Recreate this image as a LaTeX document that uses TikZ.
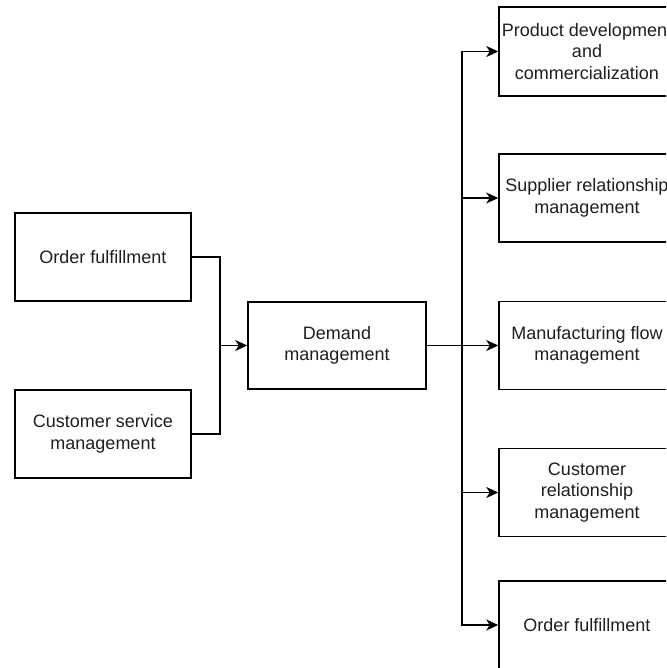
\documentclass[tikz,border=0pt]{standalone}
\usepackage{fontspec}
\setmainfont{Liberation Sans}
\usetikzlibrary{arrows.meta}
\begin{document}
\begin{tikzpicture}[x=1pt,y=-1pt,
  proc/.style={draw=black, line width=1.5pt, minimum width=176pt, minimum height=88pt,
    inner sep=0pt, align=center, font=\fontsize{18}{21.4}\selectfont, text=black!88},
  link/.style={line width=1.5pt, line join=miter},
  arr/.style={link, -{Stealth[length=12pt, width=11pt, inset=3.5pt]}}]
  \useasboundingbox (0,0) rectangle (666,668);
  \clip (0,0) rectangle (666,668);
  \fill[white] (0,0) rectangle (666,668);

  % inputs
  \node[proc] (of1) at (103,257) {Order fulfillment};
  \node[proc] (csm) at (103,434) {Customer service\\management};
  \node[proc, minimum width=178pt, minimum height=87pt] (dm) at (337,345.5) {Demand\\management};

  % outputs
  \node[proc, minimum height=89pt] (pd) at (587,51.5) {Product development\\and\\commercialization};
  \node[proc] (sr) at (587,198) {Supplier relationship\\management};
  \node[proc] (mf) at (587,345.5) {Manufacturing flow\\management};
  \node[proc] (cr) at (587,492.5) {Customer\\relationship\\management};
  \node[proc] (of2) at (587,625) {Order fulfillment};

  % merge into demand management
  \coordinate (jl) at (220,345.5);
  \draw[link] (of1.east) -| (jl);
  \draw[link] (csm.east) -| (jl);
  \draw[arr] (jl) -- (dm.west);

  % distribution trunk
  \coordinate (jr) at (462,345.5);
  \draw[arr] (dm.east) -- (mf.west);
  \draw[arr] (jr) |- (pd.west);
  \draw[arr] (jr) |- (sr.west);
  \draw[arr] (jr) |- (cr.west);
  \draw[arr] (jr) |- (of2.west);
\end{tikzpicture}
\end{document}
